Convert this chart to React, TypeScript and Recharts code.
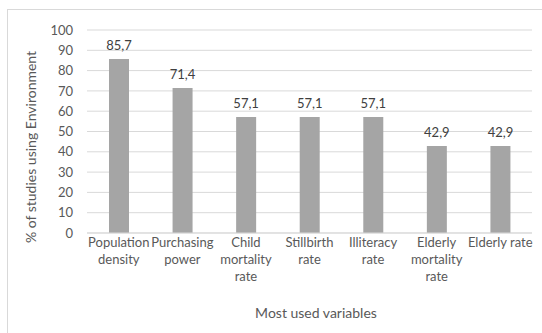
import React from 'react';
import {
  BarChart,
  Bar,
  XAxis,
  YAxis,
  CartesianGrid,
  LabelList,
  Label,
} from 'recharts';

// variable names, already broken into the lines shown under each bar
const variables: string[][] = [
  ['Population', 'density'],
  ['Purchasing', 'power'],
  ['Child', 'mortality', 'rate'],
  ['Stillbirth', 'rate'],
  ['Illiteracy', 'rate'],
  ['Elderly', 'mortality', 'rate'],
  ['Elderly rate'],
];

const shares = [85.7, 71.4, 57.1, 57.1, 57.1, 42.9, 42.9];

const yTicks = [0, 10, 20, 30, 40, 50, 60, 70, 80, 90, 100];

const data = variables.map((lines, i) => ({
  name: lines.join(' '),
  value: shares[i],
}));

const FONT = 'Lato, "Open Sans", sans-serif';
const TEXT = '#595959';

const WrappedTick = (props: any) => {
  const { x, y, index } = props;
  const lines = variables[index] || [];
  return (
    <text x={x} y={y} textAnchor="middle" fill={TEXT} fontSize={13} fontFamily={FONT}>
      {lines.map((l, i) => (
        <tspan key={i} x={x} dy={i === 0 ? 10 : 17}>
          {l}
        </tspan>
      ))}
    </text>
  );
};

const App: React.FC = () => {
  return (
    <div style={{ position: 'absolute', left: 0, top: 0, width: 542, height: 333, background: '#fff' }}>
      <div
        style={{
          position: 'absolute',
          left: 7,
          top: 9,
          width: 540,
          height: 330,
          borderTop: '1px solid #d9d9d9',
          borderLeft: '1px solid #d9d9d9',
        }}
      />
      <BarChart
        width={542}
        height={333}
        data={data}
        margin={{ top: 30, right: 10, bottom: 0, left: 27 }}
        barCategoryGap={0}
        style={{ position: 'absolute', left: 0, top: 0 }}
      >
        <CartesianGrid vertical={false} stroke="#d9d9d9" strokeWidth={1} />
        <XAxis
          dataKey="name"
          height={100}
          interval={0}
          axisLine={{ stroke: '#d9d9d9' }}
          tickLine={false}
          tickSize={0}
          tickMargin={4}
          tick={<WrappedTick />}
        >
          <Label
            content={() => (
              <text x={316} y={318} textAnchor="middle" fill={TEXT} fontSize={14} fontFamily={FONT}>
                Most used variables
              </text>
            )}
          />
        </XAxis>
        <YAxis
          width={60}
          domain={[0, 100]}
          ticks={yTicks}
          interval={0}
          axisLine={false}
          tickLine={false}
          tickSize={0}
          tickMargin={14}
          tick={{ fill: TEXT, fontSize: 13, fontFamily: FONT }}
        >
          <Label
            content={() => (
              <text
                x={30}
                y={147}
                transform="rotate(-90 30 147)"
                textAnchor="middle"
                dominantBaseline="central"
                fill={TEXT}
                fontSize={14}
                fontFamily={FONT}
              >
                % of studies using Environment
              </text>
            )}
          />
        </YAxis>
        <Bar dataKey="value" fill="#a5a5a5" barSize={20} isAnimationActive={false}>
          <LabelList
            dataKey="value"
            position="top"
            offset={9}
            fill="#404040"
            fontSize={13}
            fontFamily={FONT}
            formatter={(v: any) => Number(v).toFixed(1).replace('.', ',')}
          />
        </Bar>
      </BarChart>
    </div>
  );
};

export default App;
